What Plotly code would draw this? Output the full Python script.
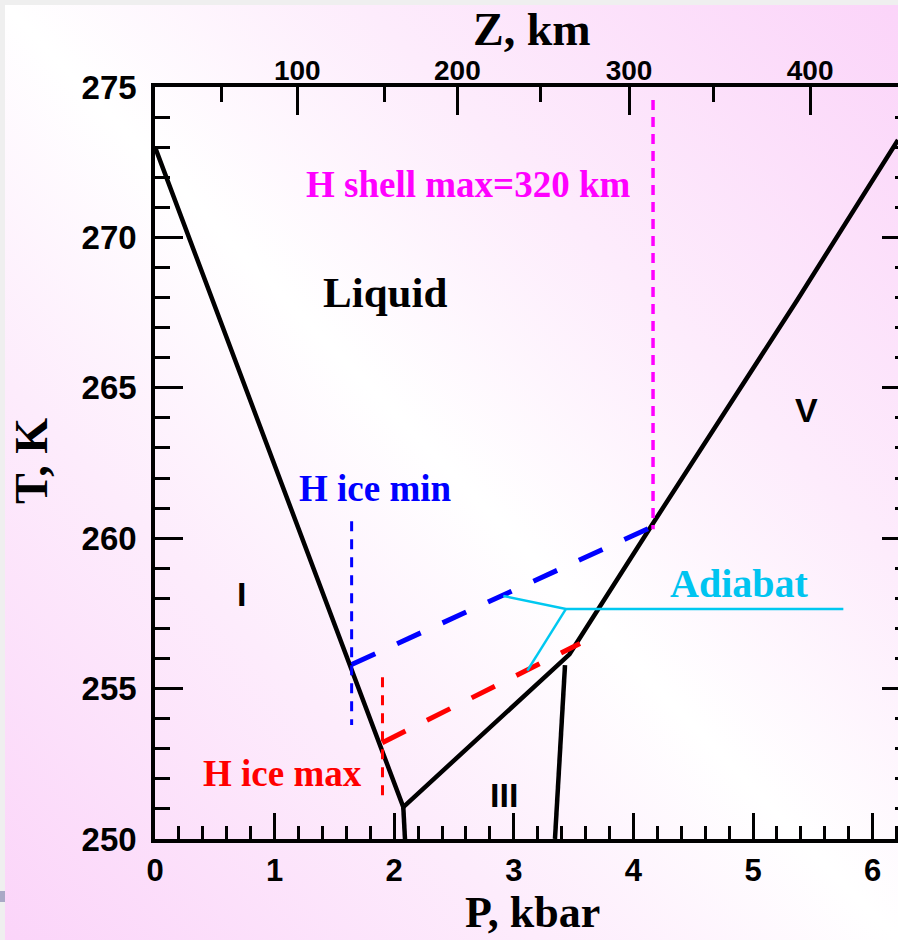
import base64
import plotly.graph_objects as go

# ---------------- data ----------------
# melting curve (ice I -> III -> V), P in kbar, T in K
melt_P = [0.0, 2.076, 3.465, 4.14, 5.37, 6.212]
melt_T = [273.0, 251.06, 256.14, 260.35, 267.92, 273.24]
# ice I / ice III boundary
i_iii_P = [2.076, 2.09]
i_iii_T = [251.06, 250.0]
# ice III / ice V boundary
iii_v_P = [3.428, 3.344]
iii_v_T = [255.78, 250.0]
# H ice min (blue)
hmin_P = [1.644, 4.14]
hmin_T = [255.8, 260.35]
hmin_mark_P = [1.644, 1.644]
hmin_mark_T = [260.56, 253.79]
# H ice max (red)
hmax_P = [1.90, 3.553]
hmax_T = [253.2, 256.5]
hmax_mark_P = [1.902, 1.902]
hmax_mark_T = [255.38, 251.4]
# H shell max = 320 km (magenta)
shell_P = [4.164, 4.164]
shell_T = [274.57, 260.3]
# adiabat (cyan)
adiabat_P = [2.912, 3.436, 5.755]
adiabat_T = [258.08, 257.65, 257.65]
adiabat_branch_P = [3.436, 3.113]
adiabat_branch_T = [257.65, 255.6]
# depth scale (top axis): depth in km and the pressure it corresponds to
z_major_km = ["100", "200", "300", "400"]
z_major_P = [1.19, 2.528, 3.963, 5.477]
z_minor_km = [50, 150, 250, 350]
z_minor_P = [0.552, 1.917, 3.219, 4.668]

P_range = [0, 6.212]
T_range = [250, 275]

# ---------------- styling ----------------
W, H = 898, 940
L, R, T, B = 155, 0, 87, 101
PW, PH = W - L - R, H - T - B
SERIF = "Liberation Serif, Times New Roman, serif"
SANS = "Liberation Sans Narrow, Arial Narrow, Liberation Sans, sans-serif"

svg = f'''<svg xmlns="http://www.w3.org/2000/svg" width="{W}" height="{H}" viewBox="0 0 {W} {H}" preserveAspectRatio="none">
<defs><linearGradient id="g" x1="0" y1="1" x2="1" y2="0">
<stop offset="0" stop-color="#fbd4f9"/><stop offset="0.3" stop-color="#fdecfc"/>
<stop offset="0.5" stop-color="#ffffff"/><stop offset="0.7" stop-color="#fdecfc"/>
<stop offset="1" stop-color="#fbd4f9"/></linearGradient></defs>
<rect width="{W}" height="{H}" fill="url(#g)"/>
<rect x="0" y="0" width="{W}" height="5" fill="#efefef"/>
<rect x="0" y="0" width="5" height="{H}" fill="#efefef"/>
<rect x="0" y="891" width="5" height="11" fill="#a9a9c6"/>
</svg>'''
bg_src = "data:image/svg+xml;base64," + base64.b64encode(svg.encode()).decode()

fig = go.Figure()


def line(x, y, color, width, dash="solid", xaxis="x", yaxis="y"):
    fig.add_trace(go.Scatter(x=x, y=y, mode="lines", xaxis=xaxis, yaxis=yaxis,
                             line=dict(color=color, width=width, dash=dash),
                             hoverinfo="skip", showlegend=False))


line(melt_P, melt_T, "black", 4.5)
line(i_iii_P, i_iii_T, "black", 4.5)
line(iii_v_P, iii_v_T, "black", 4.5)
line(hmin_P, hmin_T, "#0000ff", 5, "26px,24px")
line(hmin_mark_P, hmin_mark_T, "#0000ff", 3, "10px,8px")
line(hmax_P, hmax_T, "#ff0000", 5, "26px,24px")
line(hmax_mark_P, hmax_mark_T, "#ff0000", 3, "10px,8px")
line(shell_P, shell_T, "#ff00ff", 3.5, "10px,7px", xaxis="x2")
line(adiabat_P, adiabat_T, "#00c8f0", 2.5)
line(adiabat_branch_P, adiabat_branch_T, "#00c8f0", 2.5)
# right-hand axis carrier (no visible data)
fig.add_trace(go.Scatter(x=[None], y=[None], yaxis="y2", mode="lines",
                         hoverinfo="skip", showlegend=False))

TFONT = dict(family=SANS, color="black", weight="bold")


def ann(text, x, y, size, color="black", family=SERIF, xref="x", yref="y", angle=0):
    fig.add_annotation(text=text, x=x, y=y, xref=xref, yref=yref, showarrow=False,
                       xanchor="center", yanchor="middle", textangle=angle,
                       font=dict(family=family, size=size, color=color, weight="bold"))


ann("Liquid", 1.927, 268.18, 43)
ann("H shell max=320 km", 2.617, 271.77, 37, "#ff00ff")
ann("H ice min", 1.844, 261.66, 37, "#0000ff")
ann("H ice max", 1.066, 252.18, 37, "#ff0000")
ann("Adiabat", 4.879, 258.5, 40, "#00c4f0")
ann("I", 0.727, 258.14, 34, family=SANS)
ann("III", 2.914, 251.46, 34, family=SANS)
ann("V", 5.443, 264.27, 34, family=SANS)


def px2paper(px, py):
    return (px - L) / PW, (H - B - py) / PH


x, y = px2paper(532, 30)
ann("Z, km", x, y, 46, xref="paper", yref="paper")
x, y = px2paper(532, 912)
ann("P, kbar", x, y, 44, xref="paper", yref="paper")
x, y = px2paper(31, 461)
ann("T, K", x, y, 46, xref="paper", yref="paper", angle=-90)

axis_common = dict(showgrid=False, zeroline=False, showline=True, linecolor="black",
                   linewidth=3.5, ticks="inside", tickcolor="black", tickwidth=3)

fig.update_layout(
    width=W, height=H,
    margin=dict(l=L, r=R, t=T, b=B, autoexpand=False),
    paper_bgcolor="white", plot_bgcolor="rgba(0,0,0,0)",
    images=[dict(source=bg_src, xref="paper", yref="paper",
                 x=-L / PW, y=1 + T / PH, sizex=W / PW, sizey=H / PH,
                 xanchor="left", yanchor="top", sizing="stretch", layer="below")],
    xaxis=dict(range=P_range, tick0=0, dtick=1, ticklen=26,
               tickfont=dict(TFONT, size=31),
               ticklabelstandoff=1,
               minor=dict(dtick=0.2, tick0=0, ticks="inside", ticklen=13, tickwidth=3,
                          tickcolor="black"),
               **axis_common),
    xaxis2=dict(range=P_range, overlaying="x", side="top", anchor="y",
                tickmode="array", tickvals=z_major_P, ticktext=z_major_km, ticklen=28,
                tickfont=dict(TFONT, size=28),
                ticklabelstandoff=-8,
                minor=dict(tickmode="array", tickvals=z_minor_P, ticks="inside", ticklen=15,
                           tickwidth=3, tickcolor="black"),
                **axis_common),
    yaxis=dict(range=T_range, tick0=250, dtick=5, ticklen=28,
               tickfont=dict(TFONT, size=33),
               ticklabelstandoff=8,
               minor=dict(dtick=1, tick0=250, ticks="inside", ticklen=15, tickwidth=3,
                          tickcolor="black"),
               **axis_common),
    yaxis2=dict(range=T_range, overlaying="y", side="right", anchor="x",
                showgrid=False, zeroline=False, showline=False, showticklabels=False,
                ticks="inside", tick0=250, dtick=5, ticklen=16, tickwidth=3, tickcolor="black",
                minor=dict(dtick=1, tick0=250, ticks="inside", ticklen=3, tickwidth=3,
                           tickcolor="black")),
)

fig.write_html("out.html")
